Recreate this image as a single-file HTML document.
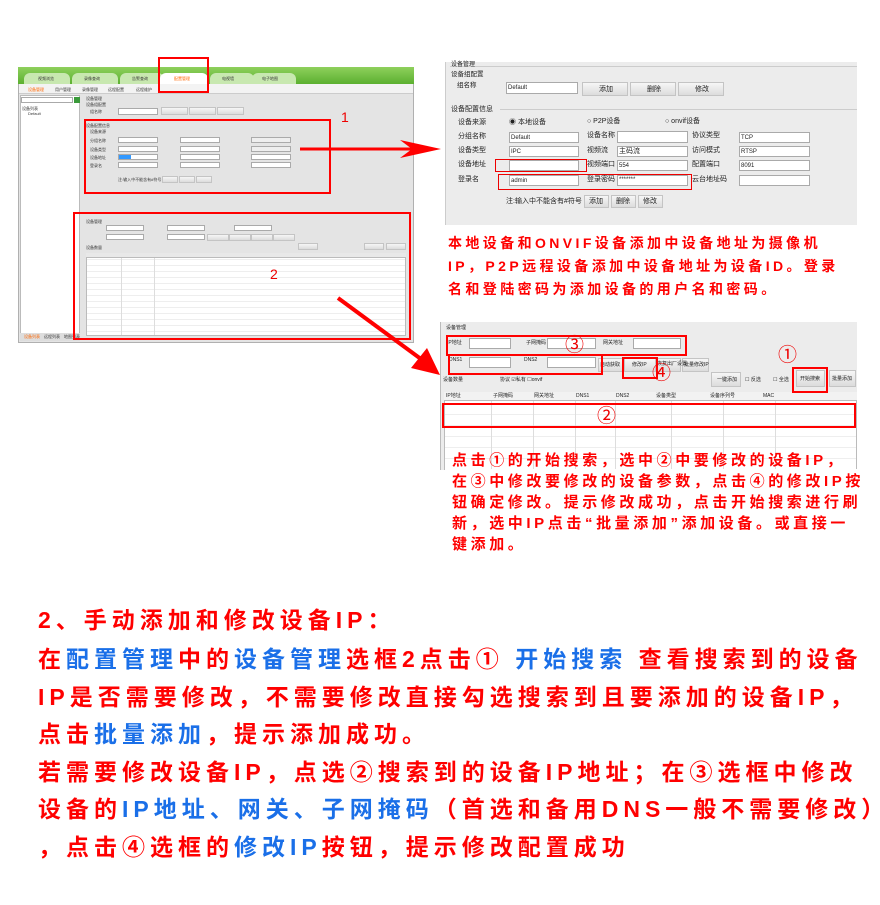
<!DOCTYPE html>
<html><head><meta charset="utf-8">
<style>
*{margin:0;padding:0;box-sizing:border-box}
body{width:880px;height:905px;background:#fff;position:relative;overflow:hidden;font-family:"Liberation Sans","Noto Sans CJK SC",sans-serif}
.a{position:absolute}
.t{position:absolute;font-size:4px;color:#333;white-space:nowrap;line-height:1}
.in{position:absolute;background:#fff;border:1px solid #aaa}
.bt{position:absolute;background:linear-gradient(#f6f6f6,#dcdcdc);border:1px solid #c4c4c4}
.rb{position:absolute;border:2px solid #f00}
.rb1{position:absolute;border:1.5px solid #e00}
.lab{position:absolute;font-size:7px;color:#222;white-space:nowrap;line-height:1}
.red{color:#f00}.blue{color:#1a6fe8}
.p{position:absolute;white-space:nowrap;font-weight:bold;color:#f00;line-height:1}
.big{position:absolute;white-space:nowrap;font-size:23px;letter-spacing:5px;color:#f00;line-height:1;left:38px;font-weight:bold}
.circ{position:absolute;color:#e00;font-size:19px;line-height:1}
</style></head><body>

<!-- LEFT SCREENSHOT -->
<div class="a" style="left:18px;top:67px;width:396px;height:276px;background:#e4e4e4;border:1px solid #b0b0b0"></div>
<div class="a" style="left:18px;top:67px;width:396px;height:17px;background:linear-gradient(#8ed05c,#5bb030)"></div>
<div class="a" style="left:24px;top:73px;width:46px;height:11px;background:#c8e8b0;border-radius:6px 6px 0 0"></div>
<div class="a" style="left:72px;top:73px;width:46px;height:11px;background:#c8e8b0;border-radius:6px 6px 0 0"></div>
<div class="a" style="left:120px;top:73px;width:44px;height:11px;background:#c8e8b0;border-radius:6px 6px 0 0"></div>
<div class="a" style="left:160px;top:73px;width:48px;height:11px;background:#fff;border-radius:6px 6px 0 0"></div>
<div class="a" style="left:210px;top:73px;width:44px;height:11px;background:#c8e8b0;border-radius:6px 6px 0 0"></div>
<div class="a" style="left:252px;top:73px;width:44px;height:11px;background:#c8e8b0;border-radius:6px 6px 0 0"></div>
<div class="t" style="left:38px;top:77px">视频浏览</div><div class="t" style="left:84px;top:77px">录像查询</div><div class="t" style="left:132px;top:77px">告警查询</div><div class="t" style="left:174px;top:77px;color:#f60">配置管理</div><div class="t" style="left:222px;top:77px">电视墙</div><div class="t" style="left:262px;top:77px">电子地图</div>
<div class="a" style="left:19px;top:84px;width:394px;height:10px;background:#f3f3f3;border-bottom:1px solid #ccc"></div>
<div class="t" style="left:28px;top:88px;color:#f60">设备管理</div><div class="t" style="left:55px;top:88px">用户管理</div><div class="t" style="left:82px;top:88px">录像管理</div><div class="t" style="left:108px;top:88px">远程配置</div><div class="t" style="left:136px;top:88px">远程维护</div>
<div class="a" style="left:20px;top:95px;width:60px;height:246px;background:#fff;border:1px solid #bbb"></div>
<div class="in" style="left:21px;top:97px;width:52px;height:6px"></div>
<div class="a" style="left:74px;top:97px;width:6px;height:6px;background:#3a9a3a"></div>
<div class="t" style="left:22px;top:107px">设备列表</div><div class="t" style="left:28px;top:112px">Default</div>
<div class="a" style="left:20px;top:333px;width:60px;height:8px;background:#ddd"></div>
<div class="t" style="left:24px;top:335px;color:#f60">设备列表</div><div class="t" style="left:44px;top:335px">远程列表</div><div class="t" style="left:64px;top:335px">地图列表</div>
<div class="t" style="left:86px;top:97px">设备管理</div><div class="t" style="left:86px;top:103px">设备组配置</div><div class="t" style="left:90px;top:110px">组名称</div>
<div class="in" style="left:118px;top:108px;width:40px;height:7px"></div>
<div class="bt" style="left:161px;top:107px;width:27px;height:8px"></div><div class="bt" style="left:189px;top:107px;width:27px;height:8px"></div><div class="bt" style="left:217px;top:107px;width:27px;height:8px"></div>
<div class="t" style="left:86px;top:124px">设备配置信息</div>
<div class="in" style="left:118px;top:137px;width:40px;height:6px"></div><div class="in" style="left:180px;top:137px;width:40px;height:6px"></div><div class="in" style="left:251px;top:137px;width:40px;height:6px;background:#eee"></div>
<div class="in" style="left:118px;top:146px;width:40px;height:6px"></div><div class="in" style="left:180px;top:146px;width:40px;height:6px"></div><div class="in" style="left:251px;top:146px;width:40px;height:6px;background:#eee"></div>
<div class="in" style="left:118px;top:154px;width:40px;height:6px"></div><div class="a" style="left:119px;top:155px;width:12px;height:4px;background:#39f"></div><div class="in" style="left:180px;top:154px;width:40px;height:6px"></div><div class="in" style="left:251px;top:154px;width:40px;height:6px"></div>
<div class="in" style="left:118px;top:162px;width:40px;height:6px"></div><div class="in" style="left:180px;top:162px;width:40px;height:6px"></div><div class="in" style="left:251px;top:162px;width:40px;height:6px"></div>
<div class="bt" style="left:162px;top:176px;width:16px;height:7px"></div><div class="bt" style="left:179px;top:176px;width:16px;height:7px"></div><div class="bt" style="left:196px;top:176px;width:16px;height:7px"></div>
<div class="t" style="left:90px;top:130px">设备来源</div><div class="t" style="left:90px;top:139px">分组名称</div><div class="t" style="left:90px;top:148px">设备类型</div><div class="t" style="left:90px;top:156px">设备地址</div><div class="t" style="left:90px;top:164px">登录名</div><div class="t" style="left:118px;top:178px">注:输入中不能含有#符号</div>
<div class="t" style="left:86px;top:220px">设备管理</div>
<div class="in" style="left:106px;top:225px;width:38px;height:6px"></div><div class="in" style="left:167px;top:225px;width:38px;height:6px"></div><div class="in" style="left:234px;top:225px;width:38px;height:6px"></div>
<div class="in" style="left:106px;top:234px;width:38px;height:6px"></div><div class="in" style="left:167px;top:234px;width:38px;height:6px"></div>
<div class="bt" style="left:207px;top:234px;width:22px;height:7px"></div><div class="bt" style="left:229px;top:234px;width:22px;height:7px"></div><div class="bt" style="left:251px;top:234px;width:22px;height:7px"></div><div class="bt" style="left:273px;top:234px;width:22px;height:7px"></div>
<div class="bt" style="left:298px;top:243px;width:20px;height:7px"></div><div class="bt" style="left:364px;top:243px;width:20px;height:7px"></div><div class="bt" style="left:386px;top:243px;width:20px;height:7px"></div>
<div class="t" style="left:86px;top:246px">设备数量</div>
<div class="a" style="left:86px;top:253px;width:320px;height:83px;background:#fff;border:1px solid #bbb;background-image:linear-gradient(90deg,transparent 34px,#ddd 34px,#ddd 35px,transparent 35px,transparent 67px,#ddd 67px,#ddd 68px,transparent 68px),repeating-linear-gradient(#fff 0 5px,#eee 5px 6px)"></div>
<div class="a" style="left:86px;top:253px;width:320px;height:5px;background:#e8e8e8;border-bottom:1px solid #bbb"></div>

<div class="rb" style="left:158px;top:57px;width:51px;height:36px"></div>
<div class="rb" style="left:84px;top:119px;width:247px;height:75px"></div>
<div class="rb" style="left:73px;top:212px;width:338px;height:128px"></div>
<div class="a" style="left:341px;top:109px;font-size:14px;color:#e00">1</div>
<div class="a" style="left:270px;top:266px;font-size:14px;color:#e00">2</div>

<svg class="a" style="left:0;top:0" width="880" height="905">
<line x1="300" y1="149" x2="415" y2="149" stroke="#f00" stroke-width="3"/>
<polygon points="400,140 441,149 400,158 412,149" fill="#f00"/>
<line x1="338" y1="298" x2="425" y2="362" stroke="#f00" stroke-width="4"/>
<polygon points="411,368 440,375 427,348" fill="#f00"/>
</svg>

<!-- RIGHT TOP SCREENSHOT -->
<div class="a" style="left:445px;top:62px;width:412px;height:163px;background:#ececec;border-left:1px solid #ccc"></div>
<div class="a" style="left:450px;top:66px;width:407px;height:1px;background:#ccc"></div>
<div class="lab" style="left:451px;top:62px;font-size:6px">设备管理</div>
<div class="lab" style="left:451px;top:72px;font-size:6.5px">设备组配置</div>
<div class="lab" style="left:457px;top:83px;font-size:6.5px">组名称</div>
<div class="in" style="left:506px;top:82px;width:72px;height:12px"></div><div class="lab" style="left:508px;top:85px;font-size:6px">Default</div>
<div class="bt" style="left:582px;top:82px;width:46px;height:14px"></div><div class="bt" style="left:630px;top:82px;width:46px;height:14px"></div><div class="bt" style="left:678px;top:82px;width:46px;height:14px"></div>
<div class="lab" style="left:599px;top:86px">添加</div><div class="lab" style="left:647px;top:86px">删除</div><div class="lab" style="left:695px;top:86px">修改</div>
<div class="lab" style="left:451px;top:106px">设备配置信息</div>
<div class="a" style="left:500px;top:109px;width:357px;height:1px;background:#ccc"></div>
<div class="lab" style="left:458px;top:119px">设备来源</div><div class="lab" style="left:509px;top:119px">◉ 本地设备</div><div class="lab" style="left:587px;top:118px">○ P2P设备</div><div class="lab" style="left:665px;top:118px">○ onvif设备</div>
<div class="lab" style="left:458px;top:133px">分组名称</div><div class="lab" style="left:587px;top:132px">设备名称</div><div class="lab" style="left:692px;top:132px">协议类型</div>
<div class="lab" style="left:458px;top:147px">设备类型</div><div class="lab" style="left:587px;top:147px">视频流</div><div class="lab" style="left:692px;top:147px">访问模式</div>
<div class="lab" style="left:458px;top:161px">设备地址</div><div class="lab" style="left:587px;top:161px">视频端口</div><div class="lab" style="left:692px;top:161px">配置端口</div>
<div class="lab" style="left:458px;top:176px">登录名</div><div class="lab" style="left:587px;top:176px">登录密码</div><div class="lab" style="left:692px;top:176px">云台地址码</div>
<div class="in" style="left:509px;top:132px;width:70px;height:11px"></div><div class="lab" style="left:511px;top:135px;font-size:6px">Default</div>
<div class="in" style="left:617px;top:131px;width:71px;height:12px"></div>
<div class="in" style="left:739px;top:132px;width:71px;height:11px"></div><div class="lab" style="left:741px;top:135px;font-size:6px">TCP</div>
<div class="in" style="left:509px;top:146px;width:70px;height:11px"></div><div class="lab" style="left:511px;top:149px;font-size:6px">IPC</div>
<div class="in" style="left:617px;top:146px;width:71px;height:11px"></div><div class="lab" style="left:619px;top:148px">主码流</div>
<div class="in" style="left:739px;top:146px;width:71px;height:11px"></div><div class="lab" style="left:741px;top:149px;font-size:6px">RTSP</div>
<div class="in" style="left:509px;top:160px;width:70px;height:11px"></div>
<div class="in" style="left:617px;top:160px;width:71px;height:11px"></div><div class="lab" style="left:619px;top:163px;font-size:6px">554</div>
<div class="in" style="left:739px;top:160px;width:71px;height:11px"></div><div class="lab" style="left:741px;top:163px;font-size:6px">8091</div>
<div class="in" style="left:509px;top:175px;width:70px;height:11px"></div><div class="lab" style="left:511px;top:178px;font-size:6px">admin</div>
<div class="in" style="left:617px;top:175px;width:71px;height:11px"></div><div class="lab" style="left:619px;top:177px;font-size:6px">*******</div>
<div class="in" style="left:739px;top:175px;width:71px;height:11px"></div>
<div class="lab" style="left:506px;top:198px">注:输入中不能含有#符号</div>
<div class="bt" style="left:584px;top:195px;width:25px;height:13px"></div><div class="bt" style="left:611px;top:195px;width:25px;height:13px"></div><div class="bt" style="left:638px;top:195px;width:25px;height:13px"></div>
<div class="lab" style="left:589px;top:198px">添加</div><div class="lab" style="left:616px;top:198px">删除</div><div class="lab" style="left:643px;top:198px">修改</div>
<div class="rb1" style="left:495px;top:159px;width:92px;height:13px"></div>
<div class="rb1" style="left:498px;top:174px;width:194px;height:16px"></div>

<div class="p" style="left:448px;top:236px;font-size:14px;letter-spacing:3.4px">本地设备和ONVIF设备添加中设备地址为摄像机</div>
<div class="p" style="left:448px;top:259px;font-size:14px;letter-spacing:3.4px">IP，P2P远程设备添加中设备地址为设备ID。登录</div>
<div class="p" style="left:448px;top:282px;font-size:14px;letter-spacing:3.4px">名和登陆密码为添加设备的用户名和密码。</div>

<!-- RIGHT BOTTOM SCREENSHOT -->
<div class="a" style="left:440px;top:322px;width:417px;height:148px;background:#ececec;border-left:1px solid #bbb"></div>
<div class="lab" style="left:446px;top:326px;font-size:5px">设备管理</div>
<div class="lab" style="left:447px;top:341px;font-size:5px">IP地址</div><div class="lab" style="left:526px;top:341px;font-size:5px">子网掩码</div><div class="lab" style="left:603px;top:341px;font-size:5px">网关地址</div>
<div class="in" style="left:469px;top:338px;width:42px;height:11px"></div><div class="in" style="left:547px;top:338px;width:49px;height:11px"></div><div class="in" style="left:633px;top:338px;width:48px;height:11px"></div>
<div class="lab" style="left:449px;top:358px;font-size:5px">DNS1</div><div class="lab" style="left:524px;top:358px;font-size:5px">DNS2</div>
<div class="in" style="left:469px;top:357px;width:42px;height:11px"></div><div class="in" style="left:547px;top:357px;width:49px;height:11px"></div>
<div class="bt" style="left:598px;top:358px;width:25px;height:14px"></div><div class="bt" style="left:624px;top:358px;width:32px;height:14px"></div><div class="bt" style="left:656px;top:358px;width:25px;height:14px"></div><div class="bt" style="left:682px;top:358px;width:27px;height:14px"></div>
<div class="lab" style="left:600px;top:363px;font-size:5px">自动获取</div><div class="lab" style="left:632px;top:363px;font-size:5px">修改IP</div><div class="lab" style="left:657px;top:362px;font-size:5px">恢复出厂设置</div><div class="lab" style="left:684px;top:363px;font-size:5px">批量修改IP</div>
<div class="lab" style="left:443px;top:378px;font-size:5px">设备数量</div><div class="lab" style="left:500px;top:378px;font-size:5px">协议 ☑私有 ☐onvif</div>
<div class="bt" style="left:711px;top:372px;width:30px;height:15px"></div><div class="lab" style="left:717px;top:378px;font-size:5px">一键添加</div>
<div class="lab" style="left:745px;top:378px;font-size:5px">☐ 反选</div><div class="lab" style="left:773px;top:378px;font-size:5px">☐ 全选</div>
<div class="bt" style="left:796px;top:370px;width:29px;height:17px"></div><div class="lab" style="left:800px;top:377px;font-size:5px">开始搜索</div>
<div class="bt" style="left:829px;top:370px;width:27px;height:17px"></div><div class="lab" style="left:832px;top:377px;font-size:5px">批量添加</div>
<div class="a" style="left:444px;top:392px;width:413px;height:78px;background:#fff;border:1px solid #bbb;background-image:linear-gradient(90deg,transparent 46px,#ddd 46px,#ddd 47px,transparent 47px,transparent 88px,#ddd 88px,#ddd 89px,transparent 89px,transparent 130px,#ddd 130px,#ddd 131px,transparent 131px,transparent 170px,#ddd 170px,#ddd 171px,transparent 171px,transparent 226px,#ddd 226px,#ddd 227px,transparent 227px,transparent 278px,#ddd 278px,#ddd 279px,transparent 279px,transparent 330px,#ddd 330px,#ddd 331px,transparent 331px),repeating-linear-gradient(#fff 0 10px,#eee 10px 11px)"></div>
<div class="a" style="left:444px;top:392px;width:413px;height:9px;background:#f2f2f2;border-bottom:1px solid #bbb"></div>
<div class="lab" style="left:446px;top:394px;font-size:5px">IP地址</div><div class="lab" style="left:493px;top:394px;font-size:5px">子网掩码</div><div class="lab" style="left:534px;top:394px;font-size:5px">网关地址</div><div class="lab" style="left:576px;top:394px;font-size:5px">DNS1</div><div class="lab" style="left:616px;top:394px;font-size:5px">DNS2</div><div class="lab" style="left:656px;top:394px;font-size:5px">设备类型</div><div class="lab" style="left:710px;top:394px;font-size:5px">设备序列号</div><div class="lab" style="left:763px;top:394px;font-size:5px">MAC</div>
<div class="rb" style="left:446px;top:335px;width:241px;height:21px"></div>
<div class="rb" style="left:448px;top:354px;width:155px;height:21px"></div>
<div class="rb" style="left:622px;top:357px;width:36px;height:22px"></div>
<div class="rb" style="left:792px;top:367px;width:36px;height:26px"></div>
<div class="rb" style="left:442px;top:403px;width:414px;height:25px"></div>
<div class="circ" style="left:565px;top:336px">③</div>
<div class="circ" style="left:652px;top:364px">④</div>
<div class="circ" style="left:778px;top:346px">①</div>
<div class="circ" style="left:597px;top:407px">②</div>
<div class="a" style="left:445px;top:469px;width:412px;height:80px;background:#fff"></div>

<div class="p" style="left:452px;top:453px;font-size:15px;letter-spacing:3.6px">点击①的开始搜索，选中②中要修改的设备IP，</div>
<div class="p" style="left:452px;top:474px;font-size:15px;letter-spacing:3.6px">在③中修改要修改的设备参数，点击④的修改IP按</div>
<div class="p" style="left:452px;top:495px;font-size:15px;letter-spacing:3.6px">钮确定修改。提示修改成功，点击开始搜索进行刷</div>
<div class="p" style="left:452px;top:516px;font-size:15px;letter-spacing:3.6px">新，选中IP点击“批量添加”添加设备。或直接一</div>
<div class="p" style="left:452px;top:537px;font-size:15px;letter-spacing:3.6px">键添加。</div>

<!-- BOTTOM TEXT -->
<div class="big" style="top:609px">2、手动添加和修改设备IP：</div>
<div class="big" style="top:648px">在<span class="blue">配置管理</span>中的<span class="blue">设备管理</span>选框2点击① <span class="blue">开始搜索</span> 查看搜索到的设备</div>
<div class="big" style="top:686px">IP是否需要修改，不需要修改直接勾选搜索到且要添加的设备IP，</div>
<div class="big" style="top:723px">点击<span class="blue">批量添加</span>，提示添加成功。</div>
<div class="big" style="top:761px">若需要修改设备IP，点选②搜索到的设备IP地址；在③选框中修改</div>
<div class="big" style="top:798px">设备的<span class="blue">IP地址、网关、子网掩码</span>（首选和备用DNS一般不需要修改）</div>
<div class="big" style="top:836px">，点击④选框的<span class="blue">修改IP</span>按钮，提示修改配置成功</div>
</body></html>
